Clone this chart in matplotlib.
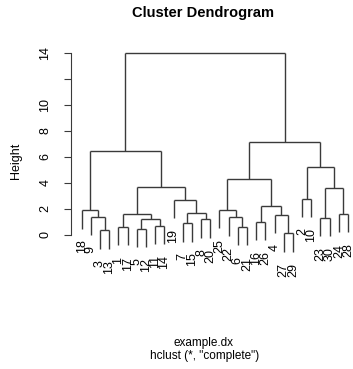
import matplotlib
matplotlib.use('Agg')
import matplotlib.pyplot as plt

# ---- data ----
leaf_order = [18, 9, 3, 13, 1, 17, 5, 12, 11, 14, 19, 7, 15, 8, 20,
              25, 22, 6, 21, 16, 26, 4, 27, 29, 2, 10, 23, 30, 24, 28]
# R hclust convention: negative = leaf label, positive = merge step (1-based)
merge_left = [-3, -9, -18, -1, -5, -11, 5, 4, -7, -8, 9, -19, 8, 3,
              -6, -22, -25, -16, -27, -4, 18, 17, -2, -23, -24, 24, 23, 22, 14]
merge_right = [-13, 1, 2, -17, -12, -14, 6, 7, -15, -20, 10, 11, 12, 13,
               -21, 15, 16, -26, -29, 19, 20, 21, -10, -30, -28, 25, 26, 27, 28]
merge_height = [0.35, 1.4, 1.9, 0.6, 0.45, 0.7, 1.25, 1.6, 0.9, 1.2, 1.67, 2.7, 3.7, 6.5,
                0.6, 1.35, 1.95, 1.0, 0.12, 1.55, 2.2, 4.3, 2.8, 1.3, 1.6, 3.65, 5.25, 7.15, 14.0]
y_ticks = [0, 2, 4, 6, 8, 10, 12, 14]
y_ticklabels = ['0', '2', '4', '6', '8', '10', '', '14']

plt.rcParams['font.family'] = ['Liberation Sans', 'DejaVu Sans']

W, H = 353, 369
fig = plt.figure(figsize=(W / 100, H / 100), dpi=100)

# axes placement in pixels
ax_left_px, ax_right_px = 71, 353
ax_top_px, ax_bot_px = 46.5, 254.5
ax = fig.add_axes([ax_left_px / W, 1 - ax_bot_px / H,
                   (ax_right_px - ax_left_px) / W, (ax_bot_px - ax_top_px) / H])

n = len(leaf_order)
leaf_x = {lab: i + 1 for i, lab in enumerate(leaf_order)}
hang = 0.1 * max(merge_height)
col = '#3a3a3a'
lw = 1.0

node_x = {}

def child_pos(c):
    if c < 0:
        return leaf_x[-c], None
    return node_x[c], merge_height[c - 1]

for j in range(len(merge_height)):
    h = merge_height[j]
    xl, hl = child_pos(merge_left[j])
    xr, hr = child_pos(merge_right[j])
    node_x[j + 1] = (xl + xr) / 2
    for c, xc, hc in ((merge_left[j], xl, hl), (merge_right[j], xr, hr)):
        bottom = hc if hc is not None else h - hang
        ax.plot([xc, xc], [h, bottom], color=col, lw=lw, solid_capstyle='butt')
        if c < 0:
            ax.annotate(str(-c), xy=(xc, bottom), xytext=(0, -8),
                        textcoords='offset points', rotation=90,
                        ha='center', va='top', fontsize=9, color='black')
    ax.plot([xl, xr], [h, h], color=col, lw=lw, solid_capstyle='butt')

ax.set_xlim(1 - 10.7 / 9.2, n + (353 - 348) / 9.2)
ax.set_ylim(-1.5, 14.5)
for s in ('top', 'right', 'bottom'):
    ax.spines[s].set_visible(False)
ax.spines['left'].set_bounds(0, 14)
ax.spines['left'].set_color(col)
ax.set_xticks([])
ax.set_yticks(y_ticks)
ax.set_yticklabels(y_ticklabels, rotation=90, va='center', fontsize=9)
ax.tick_params(axis='y', length=5, pad=9, color=col)

fig.text(16 / W, 1 - 161 / H, 'Height', rotation=90, ha='center', va='center', fontsize=9)
fig.text(203 / W, 1 - 13 / H, 'Cluster Dendrogram', ha='center', va='center',
         fontsize=10.5, fontweight='bold')
fig.text(204 / W, 1 - 343 / H, 'example.dx', ha='center', va='center', fontsize=8.5)
fig.text(205 / W, 1 - 356 / H, 'hclust (*, "complete")', ha='center', va='center', fontsize=8.5)

fig.savefig('out.png', dpi=100)
